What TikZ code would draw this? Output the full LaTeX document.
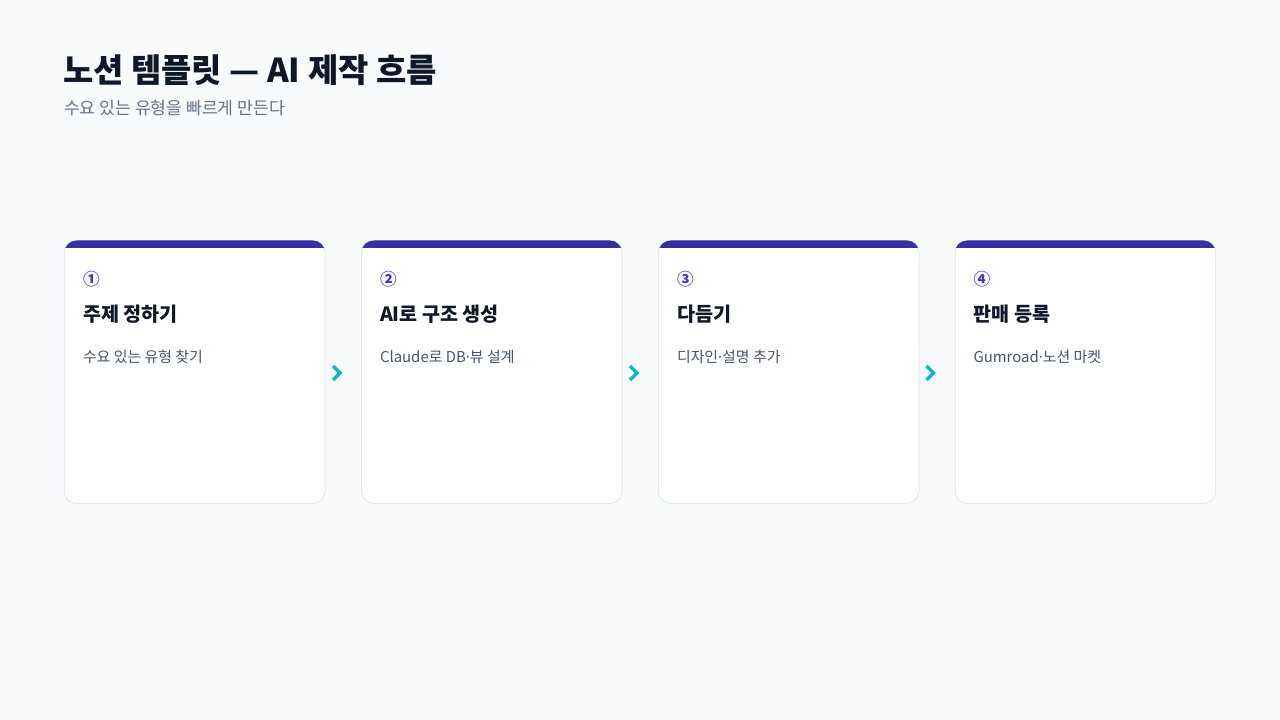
\documentclass[tikz,border=0pt]{standalone}
\usepackage{fontspec}
\setmainfont{Noto Sans CJK KR}
\newfontfamily\latinf{Noto Sans}
\definecolor{bgc}{HTML}{F8FAFC}
\definecolor{ink}{HTML}{0F172A}
\definecolor{subc}{HTML}{64748B}
\definecolor{descc}{HTML}{475569}
\definecolor{barc}{HTML}{3730A3}
\definecolor{numc}{HTML}{4338CA}
\definecolor{edgec}{HTML}{E2E8F0}
\definecolor{chev}{HTML}{06B6D4}
\newcommand{\mdot}{{\latinf ·}}
\begin{document}
\begin{tikzpicture}[x=0.75pt,y=-0.75pt,
  txt/.style={anchor=west,inner sep=0pt,outer sep=0pt},
  cardbox/.style={draw=edgec,line width=0.75pt,fill=white,rounded corners=9pt},
  numtxt/.style={txt,text=numc,font=\fontsize{12.5pt}{14pt}\selectfont\bfseries},
  ctitle/.style={txt,text=ink,font=\fontsize{14.7pt}{17pt}\selectfont\bfseries},
  cdesc/.style={txt,text=descc,font=\fontsize{11.2pt}{13pt}\selectfont},
  chevline/.style={draw=chev,line width=2.6pt,line cap=butt,line join=miter}]
\fill[bgc] (0,0) rectangle (1280,720);
\useasboundingbox (0,0) rectangle (1280,720);
\node[txt,text=ink,font=\fontsize{24.7pt}{28pt}\selectfont\bfseries] (title) at (63,70) {노션 템플릿 — AI 제작 흐름};
\node[txt,text=subc,font=\fontsize{12.9pt}{15pt}\selectfont] (sub) at (64,108) {수요 있는 유형을 빠르게 만든다};
\foreach \i/\x/\n/\t/\d in {1/64.5/①/주제 정하기/수요 있는 유형 찾기,
  2/361.5/②/AI로 구조 생성/Claude로 DB\mdot 뷰 설계,
  3/658.5/③/다듬기/디자인\mdot 설명 추가,
  4/955/④/판매 등록/Gumroad\mdot 노션 마켓}{
  \begin{scope}
    \path[cardbox] (\x,240.5) rectangle ++(260.5,263) coordinate (c\i);
    \clip[rounded corners=9pt] (\x,240.5) rectangle ++(260.5,263);
    \fill[barc] (\x,239) rectangle ++(261,9);
  \end{scope}
  \node[numtxt] (n\i) at (\x+18.5,279) {\n};
  \node[ctitle] (t\i) at (\x+18.5,314) {\t};
  \node[cdesc] (d\i) at (\x+18.5,357) {\d};
}
\foreach \x/\k in {336.5/a,633.5/b,930/c}{
  \coordinate (\k1) at (\x-3.5,366);
  \coordinate (\k2) at (\x+3.5,373);
  \coordinate (\k3) at (\x-3.5,380);
  \draw[chevline] (\k1) -- (\k2) -- (\k3);
}
\end{tikzpicture}
\end{document}
